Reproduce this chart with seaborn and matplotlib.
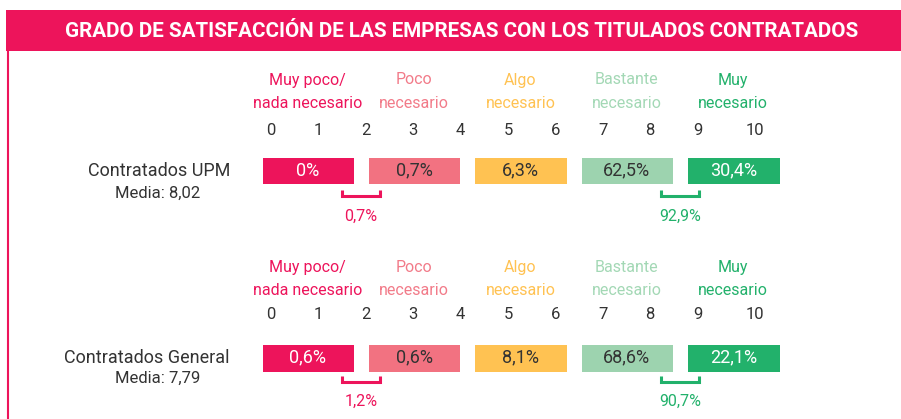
import numpy as np
import matplotlib
matplotlib.use("Agg")
import matplotlib.pyplot as plt
from matplotlib.colors import ListedColormap
from matplotlib.patches import Rectangle
import seaborn as sns

# ---------------- data ----------------
title = "GRADO DE SATISFACCIÓN DE LAS EMPRESAS CON LOS TITULADOS CONTRATADOS"
categories = ["Muy poco/\nnada necesario", "Poco\nnecesario", "Algo\nnecesario",
              "Bastante\nnecesario", "Muy\nnecesario"]
groups = ["Contratados UPM", "Contratados General"]
medias = ["8,02", "7,79"]
upm_pct = [0.0, 0.7, 6.3, 62.5, 30.4]
general_pct = [0.6, 0.6, 8.1, 68.6, 22.1]
low_share = [0.7, 1.2]     # muy poco + poco
high_share = [92.9, 90.7]  # bastante + muy
scale_ticks = list(range(11))

# ---------------- style ----------------
sns.set_theme(style="white")
plt.rcParams["font.family"] = ["Roboto", "DejaVu Sans"]

PINK = "#ED145B"
cat_colors = ["#ED145B", "#F27281", "#FFC252", "#9DD3AF", "#22B16B"]
label_colors = ["#ED145B", "#F27B89", "#FFC252", "#A3D8B5", "#22B16B"]
text_on_bar = ["white", "#333333", "#333333", "#333333", "white"]
DARK = "#333333"

W, H = 901, 419
fig = plt.figure(figsize=(W / 100, H / 100), dpi=100)

ov = fig.add_axes([0, 0, 1, 1])
ov.set_xlim(0, W)
ov.set_ylim(H, 0)
ov.axis("off")
ov.patch.set_alpha(0)
ov.set_zorder(5)

# header
ov.add_patch(Rectangle((6, 10), W - 6, 41, color=PINK, lw=0))
ov.text(462, 31.5, title, color="white", fontsize=14.9, fontweight="bold",
        ha="center", va="center")
ov.plot([8, 8], [51, H], color=PINK, lw=1.5, solid_capstyle="butt")


def fmt(v):
    return "0%" if v == 0 else f"{v:.1f}".replace(".", ",") + "%"


def px2fig(x0, y0, x1, y1):
    return [x0 / W, 1 - y1 / H, (x1 - x0) / W, (y1 - y0) / H]


cell_w = 106.4
gap = 15
hm_left = 254.5
tick_x = [271 + 47.4 * k for k in scale_ticks[:-1]] + [755]

for r, vals in enumerate([upm_pct, general_pct]):
    dy = 187 * r
    bar_top, bar_bot = 157 + dy, 184 + dy
    centers = [hm_left + cell_w * (i + 0.5) for i in range(len(categories))]

    # category labels
    for i, cat in enumerate(categories):
        l1, l2 = cat.split("\n")
        ov.text(centers[i], 80 + dy, l1, color=label_colors[i], fontsize=11.5,
                ha="center", va="center")
        ov.text(centers[i], 103 + dy, l2, color=label_colors[i], fontsize=11.5,
                ha="center", va="center")
    # scale ticks
    for k, t in enumerate(scale_ticks):
        ov.text(tick_x[k], 130 + dy - 3 * r, str(t), color=DARK, fontsize=12,
                ha="center", va="center")

    # bars as a heatmap row
    ax = fig.add_axes(px2fig(hm_left, bar_top - gap / 2,
                             hm_left + cell_w * 5, bar_bot + gap / 2))
    data = np.arange(len(categories)).reshape(1, -1)
    annot = np.array([[fmt(v) for v in vals]])
    sns.heatmap(data, ax=ax, cmap=ListedColormap(cat_colors), vmin=-0.5, vmax=4.5,
                annot=annot, fmt="", cbar=False, linewidths=gap * 0.72,
                linecolor="white", xticklabels=False, yticklabels=False,
                annot_kws={"fontsize": 13})
    for i, t in enumerate(ax.texts):
        t.set_color(text_on_bar[i])

    # left labels
    ov.text(230, 171 + dy, groups[r], color=DARK, fontsize=13, ha="right", va="center")
    ov.text(200, 193 + dy - 1.5 * r, f"Media: {medias[r]}", color=DARK, fontsize=12,
            ha="right", va="center")

    # brackets
    for share, gx, col in [(low_share[r], (centers[0] + centers[1]) / 2, PINK),
                           (high_share[r], (centers[3] + centers[4]) / 2, "#22B16B")]:
        x0, x1 = gx - 19, gx + 19
        yb0, yb1 = 190 + dy - 1.5 * r, 196 + dy - 1.5 * r
        ov.plot([x0, x0, x1, x1], [yb0, yb1, yb1, yb0], color=col, lw=2.2,
                solid_joinstyle="miter", solid_capstyle="butt")
        ov.text(gx, 216 + dy - 2 * r, fmt(share), color=col, fontsize=11.5,
                ha="center", va="center")

fig.savefig("out.png", dpi=100)
